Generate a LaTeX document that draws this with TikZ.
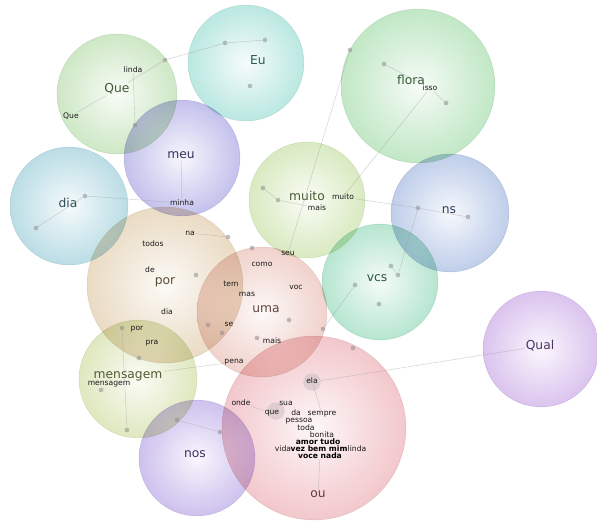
\documentclass[tikz,border=0pt]{standalone}
\usepackage{fontspec}
\setmainfont{DejaVu Sans}

\colorlet{sphcol}{white}
\pgfdeclareradialshading[sphcol]{sphere}{\pgfpoint{0bp}{0bp}}{%
  color(0bp)=(sphcol!8!white); color(16bp)=(sphcol!40!white); color(40bp)=(sphcol!85!white);
  color(47bp)=(sphcol); color(50bp)=(sphcol!88!black)}

\definecolor{cQue}{RGB}{140,200,120}
\definecolor{cEu}{RGB}{95,200,185}
\definecolor{cMeu}{RGB}{115,110,210}
\definecolor{cDia}{RGB}{95,175,195}
\definecolor{cFlora}{RGB}{110,200,120}
\definecolor{cMuito}{RGB}{165,205,110}
\definecolor{cNs}{RGB}{105,140,205}
\definecolor{cVcs}{RGB}{85,195,145}
\definecolor{cQual}{RGB}{170,115,215}
\definecolor{cPor}{RGB}{205,170,115}
\definecolor{cUma}{RGB}{220,150,135}
\definecolor{cMens}{RGB}{180,200,105}
\definecolor{cNos}{RGB}{140,110,215}
\definecolor{cOu}{RGB}{225,125,135}

\begin{document}
\begin{tikzpicture}[x=0.03cm, y=-0.03cm,
    bub/.style={/utils/exec={\colorlet{sphcol}{#1}}, shading=sphere, blend mode=multiply,
      fill opacity=0.75, draw=#1!70!black, draw opacity=0.2, line width=0.4pt},
    big/.style={text=#1!45!black, font=\fontsize{10.5}{12}\selectfont, inner sep=1pt},
    small/.style={text=black!90, font=\fontsize{6.5}{7}\selectfont, inner sep=0.5pt},
    blob/.style={text=black, font=\bfseries\fontsize{6.5}{7}\selectfont, inner sep=0pt},
    dot/.style={circle, fill=black!45, fill opacity=0.55, inner sep=0pt, minimum size=4pt},
    halo/.style={circle, fill=black!35, fill opacity=0.3, inner sep=0pt, minimum size=15pt},
    link/.style={draw=black!40, draw opacity=0.5, line width=0.35pt}]
  \useasboundingbox (0,0) rectangle (597,524);

  % Bubbles
  \path[bub=cQue] (117,94) circle (60);
  \path[bub=cEu] (246,63) circle (58);
  \path[bub=cDia] (69,206) circle (59);
  \path[bub=cFlora] (418,86) circle (77);
  \path[bub=cMuito] (307,200) circle (58);
  \path[bub=cNs] (450,213) circle (59);
  \path[bub=cVcs] (380,282) circle (58);
  \path[bub=cQual] (541,349) circle (58);
  \path[bub=cPor] (165,285) circle (78);
  \path[bub=cMeu] (182,158) circle (58);
  \path[bub=cUma] (262,312) circle (65);
  \path[bub=cMens] (138,379) circle (59);
  \path[bub=cOu] (314,428) circle (92);
  \path[bub=cNos] (197,458) circle (58);

  % Dots
  \node[dot] (q1) at (165,60) {};
  \node[dot] (q3) at (135,125) {};
  \node[dot] (e1) at (225,43) {};
  \node[dot] (e2) at (265,40) {};
  \node[dot] (e3) at (250,86) {};
  \node[dot] (a1) at (36,228) {};
  \node[dot] (a2) at (85,196) {};
  \node[dot] (f1) at (350,50) {};
  \node[dot] (f2) at (384,64) {};
  \node[dot] (f3) at (446,103) {};
  \node[dot] (m1) at (263,188) {};
  \node[dot] (m2) at (278,200) {};
  \node[dot] (n1) at (418,208) {};
  \node[dot] (n2) at (468,217) {};
  \node[dot] (v1) at (355,285) {};
  \node[dot] (v2) at (391,266) {};
  \node[dot] (v3) at (398,275) {};
  \node[dot] (v4) at (379,304) {};
  \node[dot] (p1) at (228,237) {};
  \node[dot] (p2) at (196,275) {};
  \node[dot] (p3) at (122,328) {};
  \node[dot] (p4) at (139,358) {};
  \node[dot] (u1) at (208,325) {};
  \node[dot] (u2) at (222,333) {};
  \node[dot] (u3) at (289,320) {};
  \node[dot] (u4) at (257,338) {};
  \node[dot] (u5) at (323,329) {};
  \node[dot] (u6) at (252,248) {};
  \node[dot] (o3) at (353,348) {};
  \node[dot] (g2) at (127,430) {};
  \node[dot] (g3) at (101,390) {};
  \node[dot] (s1) at (177,420) {};
  \node[dot] (s2) at (220,432) {};
  \node[halo] (o1) at (312,382) {};
  \node[halo] (o2) at (276,411) {};

  % Cluster labels
  \node[big=cQue] (lQue) at (117,89) {Que};
  \node[big=cEu] (lEu) at (258,60) {Eu};
  \node[big=cMeu] (lMeu) at (181,155) {meu};
  \node[big=cDia] (lDia) at (68,203) {dia};
  \node[big=cFlora] (lFlora) at (411,80) {flora};
  \node[big=cMuito] (lMuito) at (307,196) {muito};
  \node[big=cNs] (lNs) at (449,210) {ns};
  \node[big=cVcs] (lVcs) at (377,278) {vcs};
  \node[big=cQual] (lQual) at (540,346) {Qual};
  \node[big=cPor] (lPor) at (165,282) {por};
  \node[big=cUma] (lUma) at (266,309) {uma};
  \node[big=cMens] (lMens) at (128,376) {mensagem};
  \node[big=cNos] (lNos) at (195,454) {nos};
  \node[big=cOu] (lOu) at (318,494) {ou};

  % Word labels
  \node[small] (sLinda) at (133,70) {linda};
  \node[small] (sQue) at (71,116) {Que};
  \node[small] (sMinha) at (182,203) {minha};
  \node[small] (sNa) at (190,233) {na};
  \node[small] (sTodos) at (153,244) {todos};
  \node[small] (sDe) at (150,270) {de};
  \node[small] (sDia) at (167,312) {dia};
  \node[small] (sPor) at (137,329) {por};
  \node[small] (sPra) at (152,343) {pra};
  \node[small] (sMens) at (109,384) {mensagem};
  \node[small] (sSeu) at (288,253) {seu};
  \node[small] (sComo) at (262,264) {como};
  \node[small] (sTem) at (231,284) {tem};
  \node[small] (sMas) at (247,294) {mas};
  \node[small] (sVoc) at (296,287) {voc};
  \node[small] (sSe) at (229,324) {se};
  \node[small] (sMais) at (272,341) {mais};
  \node[small] (sPena) at (234,362) {pena};
  \node[small] (sMuito) at (343,197) {muito};
  \node[small] (sMaisb) at (317,208) {mais};
  \node[small] (sIsso) at (430,88) {isso};
  \node[small] (sEla) at (312,381) {ela};
  \node[small] (sOnde) at (241,403) {onde};
  \node[small] (sQuec) at (272,413) {que};
  \node[small] (sSua) at (286,403) {sua};
  \node[small] (sDa) at (296,413) {da};
  \node[small] (sSempre) at (322,414) {sempre};
  \node[small] (sPessoa) at (299,421) {pessoa};
  \node[small] (sToda) at (306,428) {toda};
  \node[small] (sBonita) at (322,435) {bonita};
  \node[small] (sVida) at (283,449) {vida};
  \node[small] (sLindab) at (357,449) {linda};

  % Dense word blob
  \node[blob] (sBlobA) at (318,442) {amor tudo};
  \node[blob] (sBlobB) at (319,449) {vez bem mim};
  \node[blob] (sBlobC) at (320,456) {voce nada};

  % Links
  \draw[link] (q1) -- (e1) -- (e2);
  \draw[link] (sQue) -- (lQue) -- (q1);
  \draw[link] (sLinda) -- (q3);
  \draw[link] (a1) -- (a2) -- (sMinha);
  \draw[link] (lMeu) -- (sMinha);
  \draw[link] (f2) -- (sIsso) -- (f3);
  \draw[link] (f1) -- (sSeu);
  \draw[link] (sIsso) -- (sMuito);
  \draw[link] (m1) -- (m2) -- (sMaisb);
  \draw[link] (sMuito) -- (n1) -- (n2);
  \draw[link] (n1) -- (v3);
  \draw[link] (v2) -- (v3);
  \draw[link] (v1) -- (u5);
  \draw[link] (lQual) -- (o1);
  \draw[link] (sNa) -- (p1);
  \draw[link] (p3) -- (g2);
  \draw[link] (sMens) -- (g3);
  \draw[link] (lMens) -- (sPena);
  \draw[link] (s1) -- (s2);
  \draw[link] (sOnde) -- (sQuec);
  \draw[link] (sEla) -- (sSempre);
  \draw[link] (sBlobC) -- (lOu);
\end{tikzpicture}
\end{document}
